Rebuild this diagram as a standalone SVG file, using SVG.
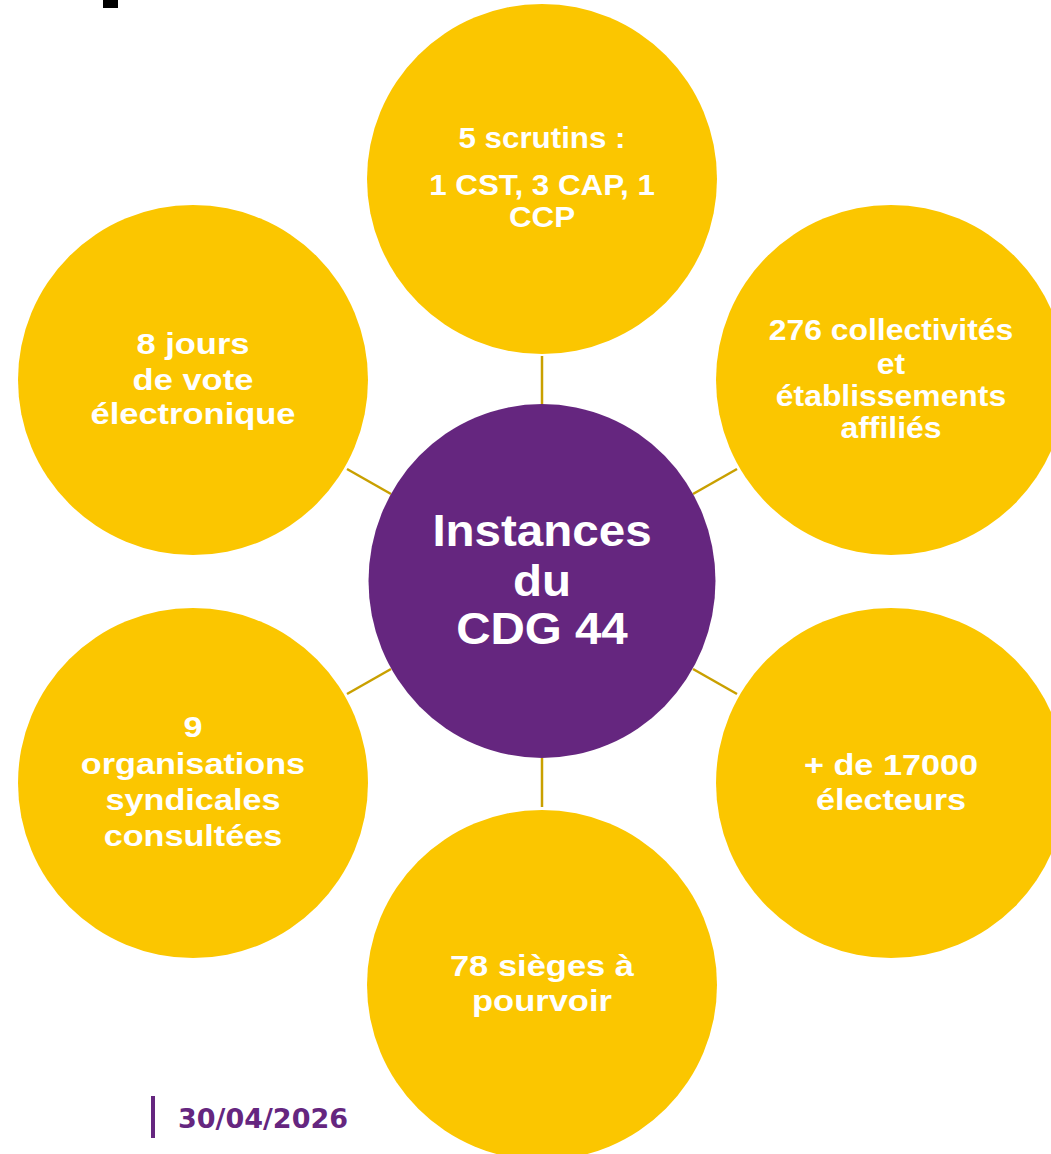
<svg xmlns="http://www.w3.org/2000/svg" width="1051" height="1154" viewBox="0 0 1051 1154">
<style>
.y{fill:#FBC600}
.p{fill:#65267F}
.t{font-family:"Liberation Sans",Arial,sans-serif;font-weight:bold;fill:#fff;text-anchor:middle}
.s{font-size:29px}
.c{font-size:44px}
.ln{stroke:#C9A000;stroke-width:2.5;fill:none}
</style>
<rect width="1051" height="1154" fill="#fff"/>
<rect x="103" y="0" width="15" height="8" fill="#000"/>
<g id="connectors">
<line class="ln" x1="542" y1="356" x2="542" y2="404"/>
<line class="ln" x1="542" y1="758" x2="542" y2="807"/>
<line class="ln" x1="347" y1="469" x2="391" y2="494"/>
<line class="ln" x1="737" y1="469" x2="693" y2="494"/>
<line class="ln" x1="347" y1="694" x2="391" y2="669"/>
<line class="ln" x1="737" y1="694" x2="693" y2="669"/>
</g>
<g id="n-top">
<circle class="y" cx="542" cy="179" r="175"/>
<text class="t s" transform="matrix(1.08,0,0,1,-43.36,0)"><tspan x="542" y="148">5 scrutins :</tspan><tspan x="542" y="195">1 CST, 3 CAP, 1</tspan><tspan x="542" y="227">CCP</tspan></text>
</g>
<g id="n-ul">
<circle class="y" cx="193" cy="380" r="175"/>
<text class="t s" transform="matrix(1.19,0,0,1,-36.67,0)"><tspan x="193" y="354">8 jours</tspan><tspan x="193" y="390">de vote</tspan><tspan x="193" y="424">électronique</tspan></text>
</g>
<g id="n-ur">
<circle class="y" cx="891" cy="380" r="175"/>
<text class="t s" transform="matrix(1.1,0,0,1,-89.1,0)"><tspan x="891" y="340">276 collectivités</tspan><tspan x="891" y="374">et</tspan><tspan x="891" y="406">établissements</tspan><tspan x="891" y="438">affiliés</tspan></text>
</g>
<g id="n-ll">
<circle class="y" cx="193" cy="783" r="175"/>
<text class="t s" transform="matrix(1.18,0,0,1,-34.74,0)"><tspan x="193" y="737">9</tspan><tspan x="193" y="774">organisations</tspan><tspan x="193" y="810">syndicales</tspan><tspan x="193" y="846">consultées</tspan></text>
</g>
<g id="n-lr">
<circle class="y" cx="891" cy="783" r="175"/>
<text class="t s" transform="matrix(1.18,0,0,1,-160.38,0)"><tspan x="891" y="775">+ de 17000</tspan><tspan x="891" y="810">électeurs</tspan></text>
</g>
<g id="n-bottom">
<circle class="y" cx="542" cy="985" r="175"/>
<text class="t s" transform="matrix(1.19,0,0,1,-102.98,0)"><tspan x="542" y="976">78 sièges à</tspan><tspan x="542" y="1011">pourvoir</tspan></text>
</g>
<g id="n-center">
<ellipse class="p" cx="542" cy="581" rx="173.5" ry="177"/>
<text class="t c" transform="matrix(1.08,0,0,1,-43.36,0)"><tspan x="542" y="546">Instances</tspan><tspan x="542" y="596">du</tspan><tspan x="542" y="644">CDG 44</tspan></text>
</g>
<g id="footer">
<rect x="151" y="1096" width="4" height="42" class="p"/>
<text x="178" y="1128" font-family="'DejaVu Sans',Verdana,sans-serif" font-weight="bold" font-size="27" fill="#65267F">30/04/2026</text>
</g>
</svg>
